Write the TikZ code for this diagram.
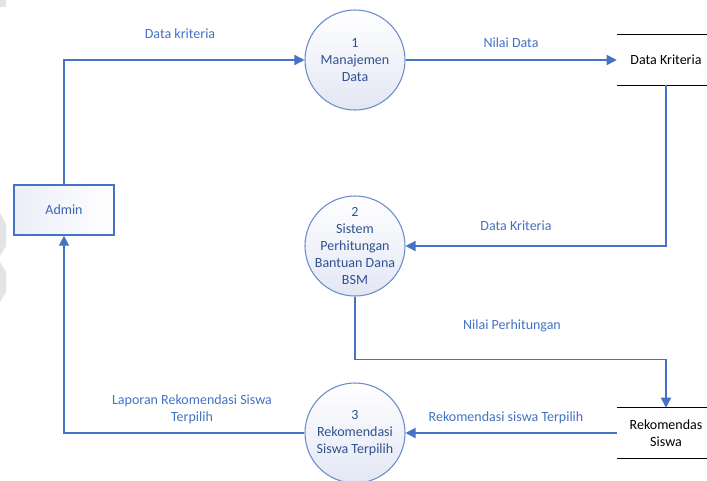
\documentclass[tikz,border=0pt]{standalone}
\usepackage{fontspec}
\setmainfont{Carlito}
\usetikzlibrary{arrows.meta}

\definecolor{flowblue}{HTML}{4472C4}
\definecolor{procedge}{HTML}{6B8DC9}
\definecolor{proctext}{HTML}{2F528F}
\definecolor{procfill}{HTML}{E3E7F4}
\definecolor{entitytext}{HTML}{3F63B8}
\definecolor{smudge}{HTML}{E4E4E4}

\tikzset{
  process/.style={circle, draw=procedge, line width=0.8pt, minimum size=75pt,
    inner sep=0pt, top color=white, bottom color=procfill},
  proclabel/.style={align=center, text=proctext, font=\fontsize{10.5}{12.6}\selectfont},
  entity/.style={rectangle, draw=flowblue, line width=1.1pt, minimum width=75pt,
    minimum height=37.5pt, inner sep=0pt, left color=procfill!70, right color=white,
    text=entitytext, font=\fontsize{10.5}{12.6}\selectfont},
  store/.style={rectangle, minimum width=73.5pt, minimum height=37.5pt, inner sep=0pt,
    align=center, font=\fontsize{10.5}{12.6}\selectfont},
  storeline/.style={draw=black, line width=1pt},
  flow/.style={draw=flowblue, line width=1.1pt, -{Triangle[length=7.5pt, width=7.5pt]}},
  flowlabel/.style={text=flowblue, align=center, font=\fontsize{10.5}{12.6}\selectfont}
}

\begin{document}
\begin{tikzpicture}[x=0.75pt, y=-0.75pt]
\useasboundingbox (0,0) rectangle (707,480);
\clip (0,0) rectangle (707,480);
\fill[white] (0,0) rectangle (707,480);

% faint marks along the left edge
\fill[smudge] (0,0) rectangle (6,7);
\fill[smudge] (0,213) -- (6,224) -- (6,246) -- (0,256) -- cycle;
\fill[smudge] (0,262) -- (6,272) -- (6,292) -- (0,302) -- cycle;

% processes
\node[process] (p1) at (355,60) {};
\node[proclabel] (p1text) at (p1.center) {1\\Manajemen\\Data};
\node[process] (p2) at (355,246) {};
\node[proclabel] (p2text) at (p2.center) {2\\Sistem\\Perhitungan\\Bantuan Dana\\BSM};
\node[process] (p3) at (355,433) {};
\node[proclabel] (p3text) at (p3.center) {3\\Rekomendasi\\Siswa Terpilih};

% external entity
\node[entity] (admin) at (64,210) {Admin};

% data stores (open-ended)
\node[store] (ds1) at (666,60) {Data Kriteria};
\draw[storeline] (ds1.north west) -- (ds1.north east);
\draw[storeline] (ds1.south west) -- (ds1.south east);
\node[store] (ds2) at (666,433) {Rekomendas\\Siswa};
\draw[storeline] (ds2.north west) -- (ds2.north east);
\draw[storeline] (ds2.south west) -- (ds2.south east);

% data flows
\draw[flow] (admin.north) |- (p1.west);
\draw[flow] (p1.east) -- (ds1.west);
\draw[flow] (ds1.south) |- (p2.east);
\draw[flow] (p2.south) -- ++(0,63) -| (ds2.north);
\draw[flow] (ds2.west) -- (p3.east);
\draw[flow] (p3.west) -| (admin.south);

% flow labels
\node[flowlabel] (l1) at (180,34) {Data kriteria};
\node[flowlabel] (l2) at (511,43) {Nilai Data};
\node[flowlabel] (l3) at (516,226) {Data Kriteria};
\node[flowlabel] (l4) at (512,326) {Nilai Perhitungan};
\node[flowlabel] (l5) at (506,418) {Rekomendasi siswa Terpilih};
\node[flowlabel] (l6) at (192,409) {Laporan Rekomendasi Siswa\\Terpilih};
\end{tikzpicture}
\end{document}
